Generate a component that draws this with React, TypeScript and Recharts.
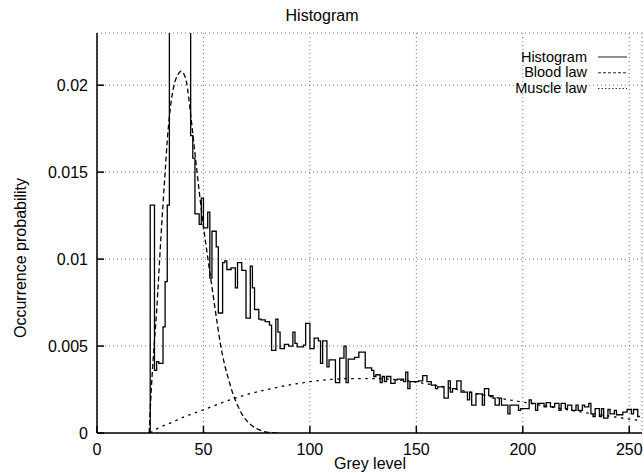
import React from 'react';
import { LineChart, Line, XAxis, YAxis, CartesianGrid } from 'recharts';

const FONT = '"Liberation Sans", Arial, Helvetica, sans-serif';

const greyTicks = [0, 50, 100, 150, 200, 250];
const probTicks = [0, 0.005, 0.01, 0.015, 0.02];

// histogram: one value per grey level, first bin is 24 (values in 1/1000)
const histFirstBin = 24;
const histValues = [
  0, 13.1, 13.1, 3.6, 4.1, 4.0, 4.0, 6.1, 8.7, 13.1,
  26, 28, 31, 33, 35, 34, 33, 30, 27, 24,
  17.1, 15.8, 12.6, 12.6, 12.0, 13.5, 11.8, 11.8, 12.7, 8.9,
  11.6, 11.6, 10.7, 6.9, 6.9, 9.8, 9.9, 9.4, 9.4, 9.5,
  9.5, 8.35, 9.8, 9.8, 9.35, 9.35, 6.6, 6.6, 9.6, 8.35,
  7.1, 7.1, 6.55, 6.5, 6.5, 6.4, 6.4, 6.2, 4.75, 4.75,
  6.55, 5.8, 4.85, 4.85, 5.1, 5.1, 5.0, 5.0, 5.8, 5.15,
  4.95, 4.95, 4.95, 5.05, 6.3, 6.3, 4.85, 4.85, 5.45, 5.45,
  5.3, 4.0, 5.3, 5.3, 3.8, 4.2, 4.2, 4.2, 2.9, 2.9,
  4.3, 4.3, 5.0, 2.9, 4.25, 4.25, 4.25, 4.35, 4.35, 4.65,
  4.65, 4.65, 3.75, 3.75, 3.75, 3.6, 3.25, 3.35, 3.35, 2.9,
  3.25, 2.95, 3.25, 3.25, 2.85, 2.85, 3.05, 3.1, 3.1, 3.1,
  2.95, 3.5, 2.55, 2.95, 2.95, 2.95, 2.95, 3.0, 3.0, 3.3,
  3.3, 2.95, 2.95, 2.75, 2.75, 2.55, 2.65, 2.65, 2.65, 2.0,
  2.0, 3.0, 2.35, 2.55, 2.55, 3.0, 3.0, 2.35, 2.35, 2.35,
  1.9, 2.35, 1.6, 1.6, 2.25, 2.25, 2.25, 1.6, 2.55, 2.55,
  2.15, 2.15, 2.0, 1.6, 1.6, 2.0, 1.6, 1.6, 1.6, 1.1,
  1.6, 1.6, 1.6, 1.6, 1.3, 1.4, 1.4, 1.4, 1.4, 1.9,
  1.7, 1.7, 1.3, 1.7, 1.7, 1.7, 1.5, 1.75, 1.75, 1.5,
  1.5, 1.7, 1.7, 1.3, 1.7, 1.7, 1.4, 1.6, 1.6, 1.3,
  1.3, 1.6, 1.3, 1.3, 1.6, 1.5, 1.5, 1.7, 1.1, 0.95,
  1.4, 1.4, 0.95, 1.4, 0.85, 0.85, 1.35, 1.1, 1.1, 1.3,
  1.05, 1.05, 1.05, 1.2, 1.2, 1.35, 1.35, 1.1, 1.35, 1.35,
  0.95,
];

// fitted laws (values in 1/1000)
const bloodGrey = [24.5, 25.5, 27, 28, 30, 32, 33, 34, 36, 38, 39.5, 41, 42, 44, 46, 48, 50, 52, 54, 56, 58, 60, 62, 64, 66, 68, 70, 72, 75, 78, 82, 86];
const bloodValue = [0, 2.5, 5.3, 7.0, 11.2, 15.0, 16.8, 18.2, 19.9, 20.6, 20.8, 20.6, 20.2, 18.3, 16.1, 13.9, 11.9, 10.1, 8.4, 6.7, 5.1, 3.9, 3.0, 2.2, 1.6, 1.1, 0.75, 0.5, 0.25, 0.1, 0.02, 0];

const muscleGrey = [25, 27, 30, 35, 40, 50, 60, 70, 80, 90, 100, 110, 120, 130, 140, 150, 160, 170, 180, 190, 200, 210, 220, 230, 240, 250, 255];
const muscleValue = [0, 0.15, 0.35, 0.6, 0.88, 1.33, 1.8, 2.2, 2.5, 2.75, 2.95, 3.08, 3.13, 3.13, 3.07, 2.92, 2.72, 2.48, 2.22, 1.98, 1.78, 1.56, 1.36, 1.16, 0.98, 0.8, 0.72];

const legendItems = [
  { name: 'Histogram', dash: undefined },
  { name: 'Blood law', dash: '3 2' },
  { name: 'Muscle law', dash: '1.5 2' },
];

const histData = [...histValues, histValues[histValues.length - 1]].map((v, i) => ({
  grey: histFirstBin + i,
  p: v / 1000,
}));
const bloodData = bloodGrey.map((g, i) => ({ grey: g, p: bloodValue[i] / 1000 }));
const muscleData = muscleGrey.map((g, i) => ({ grey: g, p: muscleValue[i] / 1000 }));

const tickStyle = { fill: '#000', fontSize: 16, fontFamily: FONT };
const axisStroke = { stroke: '#000', strokeWidth: 1.5 };

export default function App() {
  return (
    <div style={{ position: 'absolute', left: 0, top: 0, background: '#fff' }}>
      <LineChart width={644} height={473} margin={{ top: 33, right: 2, left: 0, bottom: 0 }}>
        <CartesianGrid stroke="#777" strokeDasharray="1 3" />
        <XAxis
          dataKey="grey"
          type="number"
          domain={[0, 256]}
          ticks={greyTicks}
          allowDataOverflow
          height={40}
          tickSize={-7}
          tickMargin={18}
          tick={tickStyle}
          axisLine={axisStroke}
          tickLine={axisStroke}
        />
        <XAxis
          xAxisId="top"
          orientation="top"
          type="number"
          domain={[0, 256]}
          ticks={greyTicks}
          allowDataOverflow
          height={0}
          tickSize={-7}
          tick={false}
          axisLine={axisStroke}
          tickLine={axisStroke}
        />
        <YAxis
          type="number"
          domain={[0, 0.023]}
          ticks={probTicks}
          allowDataOverflow
          width={97}
          tickSize={-7}
          tickMargin={16}
          tick={tickStyle}
          tickFormatter={(v: number) => String(v)}
          axisLine={axisStroke}
          tickLine={axisStroke}
        />
        <YAxis
          yAxisId="right"
          orientation="right"
          type="number"
          domain={[0, 0.023]}
          ticks={probTicks}
          allowDataOverflow
          width={0}
          tickSize={-7}
          tick={false}
          axisLine={axisStroke}
          tickLine={axisStroke}
        />
        <Line
          data={histData}
          dataKey="p"
          type="stepAfter"
          stroke="#000"
          strokeWidth={1.3}
          dot={false}
          isAnimationActive={false}
        />
        <Line
          data={bloodData}
          dataKey="p"
          type="monotone"
          stroke="#000"
          strokeWidth={1.3}
          strokeDasharray="5 3"
          dot={false}
          isAnimationActive={false}
        />
        <Line
          data={muscleData}
          dataKey="p"
          type="monotone"
          stroke="#000"
          strokeWidth={1.3}
          strokeDasharray="2.5 4.5"
          dot={false}
          isAnimationActive={false}
        />
        <text x={322} y={20.5} textAnchor="middle" fontFamily={FONT} fontSize={16} fill="#000">
          Histogram
        </text>
        <text x={370} y={469} textAnchor="middle" fontFamily={FONT} fontSize={16} fill="#000">
          Grey level
        </text>
        <text
          x={20}
          y={258}
          transform="rotate(-90 20 258)"
          textAnchor="middle"
          dominantBaseline="central"
          fontFamily={FONT}
          fontSize={16}
          fill="#000"
        >
          Occurrence probability
        </text>
        {legendItems.map((item, i) => (
          <g key={item.name}>
            <text x={587} y={61.5 + i * 15.8} textAnchor="end" fontFamily={FONT} fontSize={14.5} fill="#000">
              {item.name}
            </text>
            <line
              x1={598}
              x2={627}
              y1={57 + i * 15.8}
              y2={57 + i * 15.8}
              stroke="#222"
              strokeWidth={1}
              strokeDasharray={item.dash}
            />
          </g>
        ))}
      </LineChart>
    </div>
  );
}
